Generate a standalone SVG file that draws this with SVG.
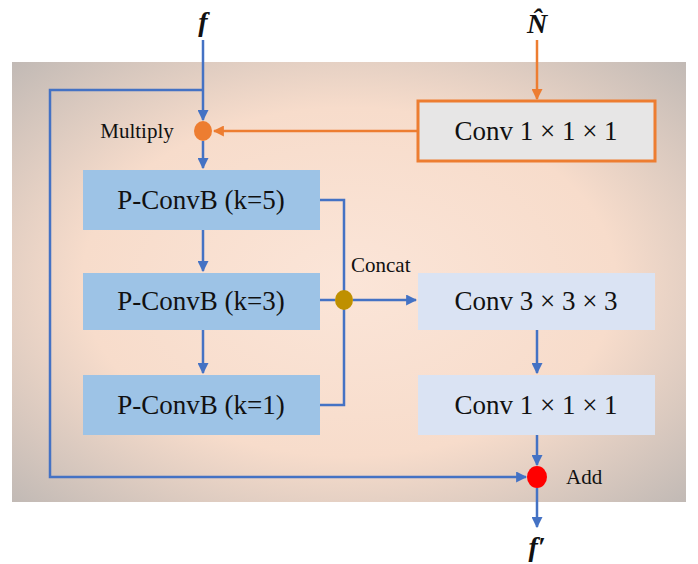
<svg xmlns="http://www.w3.org/2000/svg" width="698" height="564" viewBox="0 0 698 564">
<defs>
<radialGradient id="bg" cx="0.5" cy="0.5" r="0.72">
<stop offset="0" stop-color="#fbe5d8"/>
<stop offset="0.55" stop-color="#f7dccb"/>
<stop offset="1" stop-color="#bfb8b4"/>
</radialGradient>
<marker id="ab" viewBox="0 0 10 10" refX="9" refY="5" markerWidth="4.4" markerHeight="4.4" orient="auto" markerUnits="strokeWidth"><path d="M0,0 L10,5 L0,10 z" fill="#4472c4"/></marker>
<marker id="ao" viewBox="0 0 10 10" refX="9" refY="5" markerWidth="4.4" markerHeight="4.4" orient="auto" markerUnits="strokeWidth"><path d="M0,0 L10,5 L0,10 z" fill="#ed7d31"/></marker>
</defs>
<style>
.t{font-family:"Liberation Serif","Times New Roman",serif;fill:#111;}
.box{font-size:27px;}
.lbl{font-size:21px;}
.math{font-size:28px;font-weight:bold;font-style:italic;}
.b{fill:none;stroke:#4472c4;stroke-width:2.5;}
.o{fill:none;stroke:#ed7d31;stroke-width:2.5;}
</style>
<rect x="12" y="62" width="674" height="440" fill="url(#bg)"/>
<g id="connectors">
<path class="b" d="M203,40 V120" marker-end="url(#ab)"/>
<path class="b" d="M203,90 H50 V477 H526" marker-end="url(#ab)"/>
<path class="o" d="M537,40 V99" marker-end="url(#ao)"/>
<path class="o" d="M417,131 H214" marker-end="url(#ao)"/>
<path class="b" d="M203,141 V168" marker-end="url(#ab)"/>
<path class="b" d="M203,230 V271" marker-end="url(#ab)"/>
<path class="b" d="M203,330 V373" marker-end="url(#ab)"/>
<path class="b" d="M320,200 H344 V405 H320"/>
<path class="b" d="M320,300 H335"/>
<path class="b" d="M353,300 H416" marker-end="url(#ab)"/>
<path class="b" d="M537,330 V373" marker-end="url(#ab)"/>
<path class="b" d="M537,435 V465" marker-end="url(#ab)"/>
<path class="b" d="M537,488 V527" marker-end="url(#ab)"/>
</g>
<g id="in-f"><text class="t math" x="203" y="31" text-anchor="middle">f</text></g>
<g id="in-n"><text class="t math" x="537" y="33" text-anchor="middle">N&#x302;</text></g>
<g id="conv-n"><rect x="418" y="101" width="237" height="60" fill="#e7e6e6" stroke="#ed7d31" stroke-width="3"/><text class="t box" x="536" y="140" text-anchor="middle">Conv 1 × 1 × 1</text></g>
<g id="multiply"><ellipse cx="203" cy="131" rx="9" ry="10" fill="#ed7d31"/><text class="t lbl" x="137" y="138" text-anchor="middle">Multiply</text></g>
<g id="pconv5"><rect x="83" y="170" width="237" height="60" fill="#9dc3e6"/><text class="t box" x="201" y="209" text-anchor="middle">P-ConvB (k=5)</text></g>
<g id="pconv3"><rect x="83" y="273" width="237" height="57" fill="#9dc3e6"/><text class="t box" x="201" y="310" text-anchor="middle">P-ConvB (k=3)</text></g>
<g id="pconv1"><rect x="83" y="375" width="237" height="60" fill="#9dc3e6"/><text class="t box" x="201" y="414" text-anchor="middle">P-ConvB (k=1)</text></g>
<g id="concat"><ellipse cx="344" cy="300" rx="9" ry="10" fill="#bf9000"/><text class="t lbl" x="351" y="272">Concat</text></g>
<g id="conv3"><rect x="418" y="273" width="237" height="57" fill="#dae3f3"/><text class="t box" x="536" y="310" text-anchor="middle">Conv 3 × 3 × 3</text></g>
<g id="conv1"><rect x="418" y="375" width="237" height="60" fill="#dae3f3"/><text class="t box" x="536" y="414" text-anchor="middle">Conv 1 × 1 × 1</text></g>
<g id="add"><ellipse cx="537" cy="477" rx="10" ry="11" fill="#ff0000"/><text class="t lbl" x="566" y="484">Add</text></g>
<g id="out-f"><text class="t math" x="537" y="556" text-anchor="middle">f′</text></g>
</svg>
